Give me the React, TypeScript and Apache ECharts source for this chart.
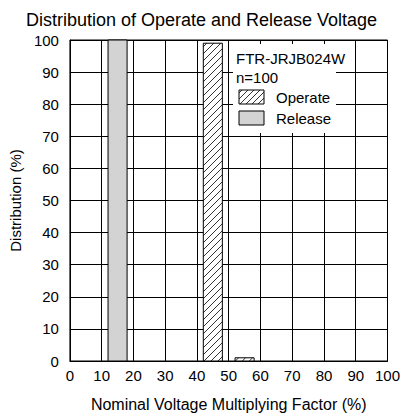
import React, { useEffect, useRef } from "react";
import * as echarts from "echarts";

const titleText = "Distribution of Operate and Release Voltage";
const xAxisName = "Nominal Voltage Multiplying Factor (%)";
const yAxisName = "Distribution (%)";
const legendTitle = "FTR-JRJB024W";
const legendSample = "n=100";
const seriesNames = ["Operate", "Release"];

// bins: [start, end] of the voltage factor range (%)
const binStart = [42, 52, 12];
const binEnd = [48, 58, 18];
const binValue = [99, 1, 100];
const binKind = [0, 0, 1]; // 0 = Operate (hatched), 1 = Release (gray)

const hatchLines = (x: number, y: number, w: number, h: number, step: number) => {
  const out: number[][] = [];
  for (let c = x + y + step / 2; c < x + w + y + h; c += step) {
    const xa = Math.max(x, c - y - h);
    const xb = Math.min(x + w, c - y);
    if (xb - xa > 0.3) out.push([xa, c - xa, xb, c - xb]);
  }
  return out;
};

export default function App() {
  const ref = useRef<HTMLDivElement>(null);
  useEffect(() => {
    document.body.style.margin = "0";
    if (!ref.current) return;
    const chart = echarts.init(ref.current, null, { renderer: "svg" });
    const font = "Liberation Sans, Arial, sans-serif";
    const data = binStart.map((s, i) => [s, binEnd[i], binValue[i], binKind[i]]);

    const lx = 239, ly1 = 90, ly2 = 111, sw = 25, sh = 14;
    const legendHatch = hatchLines(lx, ly1, sw, sh, 6).map((l) => ({
      type: "line",
      z: 101,
      shape: { x1: l[0], y1: l[1], x2: l[2], y2: l[3] },
      style: { stroke: "#000", lineWidth: 0.8 },
    }));

    chart.setOption({
      animation: false,
      backgroundColor: "#fff",
      textStyle: { fontFamily: font },
      title: {
        text: titleText,
        left: "center",
        top: 6,
        textStyle: { fontFamily: font, fontSize: 18, fontWeight: "normal", color: "#000" },
      },
      grid: {
        left: 67,
        top: 40,
        right: 11,
        bottom: 52,
        show: true,
        borderColor: "#000",
        borderWidth: 1,
      },
      xAxis: {
        type: "value",
        min: 0,
        max: 100,
        interval: 10,
        name: xAxisName,
        nameLocation: "middle",
        nameGap: 35,
        nameTextStyle: { fontFamily: font, fontSize: 16, color: "#000" },
        axisLine: { show: true, lineStyle: { color: "#000" } },
        axisTick: { show: false },
        axisLabel: { fontFamily: font, fontSize: 15, color: "#000", margin: 7 },
        splitLine: { show: true, lineStyle: { color: "#000", width: 1 } },
      },
      yAxis: {
        type: "value",
        min: 0,
        max: 100,
        interval: 10,
        name: yAxisName,
        nameLocation: "middle",
        nameGap: 38,
        nameTextStyle: { fontFamily: font, fontSize: 15, color: "#000" },
        axisLine: { show: true, lineStyle: { color: "#000" } },
        axisTick: { show: false },
        axisLabel: { fontFamily: font, fontSize: 15, color: "#000", margin: 11 },
        splitLine: { show: true, lineStyle: { color: "#000", width: 1 } },
      },
      graphic: [
        {
          type: "rect",
          z: 100,
          shape: { x: 233, y: 44, width: 103, height: 89 },
          style: { fill: "#fff", stroke: null },
        },
        {
          type: "text",
          z: 101,
          x: 236,
          y: 58,
          style: { text: legendTitle, font: `15px ${font}`, fill: "#000", textVerticalAlign: "middle" },
        },
        {
          type: "text",
          z: 101,
          x: 236,
          y: 77,
          style: { text: legendSample, font: `15px ${font}`, fill: "#000", textVerticalAlign: "middle" },
        },
        {
          type: "rect",
          z: 101,
          shape: { x: lx, y: ly1, width: sw, height: sh },
          style: { fill: "#fff", stroke: "#000", lineWidth: 1 },
        },
        ...legendHatch,
        {
          type: "text",
          z: 101,
          x: 276,
          y: ly1 + sh / 2,
          style: { text: seriesNames[0], font: `15px ${font}`, fill: "#000", textVerticalAlign: "middle" },
        },
        {
          type: "rect",
          z: 101,
          shape: { x: lx, y: ly2, width: sw, height: sh },
          style: { fill: "#d3d3d3", stroke: "#000", lineWidth: 1 },
        },
        {
          type: "text",
          z: 101,
          x: 276,
          y: ly2 + sh / 2,
          style: { text: seriesNames[1], font: `15px ${font}`, fill: "#000", textVerticalAlign: "middle" },
        },
      ],
      series: [
        {
          type: "custom",
          data,
          encode: { x: [0, 1], y: 2 },
          renderItem: (params: any, api: any) => {
            const x0 = api.value(0), x1 = api.value(1), v = api.value(2), k = api.value(3);
            const p0 = api.coord([x0, 0]);
            const p1 = api.coord([x1, v]);
            const x = p0[0], y = p1[1], w = p1[0] - p0[0], h = p0[1] - p1[1];
            const children: any[] = [
              {
                type: "rect",
                shape: { x, y, width: w, height: h },
                style: { fill: k === 1 ? "#d3d3d3" : "#fff", stroke: "#000", lineWidth: 1 },
              },
            ];
            if (k === 0) {
              hatchLines(x, y, w, h, 7).forEach((l) => {
                children.push({
                  type: "line",
                  shape: { x1: l[0], y1: l[1], x2: l[2], y2: l[3] },
                  style: { stroke: "#000", lineWidth: 0.8 },
                });
              });
            }
            return { type: "group", children };
          },
        },
      ],
    });
    return () => chart.dispose();
  }, []);
  return <div ref={ref} style={{ width: 403, height: 417 }} />;
}
